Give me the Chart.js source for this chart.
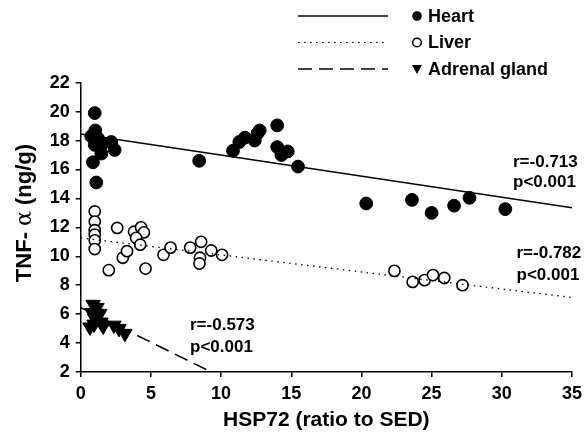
<!DOCTYPE html>
<html>
<head>
<meta charset="utf-8">
<script src="https://cdn.jsdelivr.net/npm/chart.js@4.4.0/dist/chart.umd.min.js"></script>
<style>
  html, body { margin: 0; padding: 0; background: #fff; }
  canvas { display: block; }
</style>
</head>
<body>
<canvas id="chart" width="588" height="439"></canvas>
<script>
// values
const heartX = [1.0, 1.04, 0.75, 1.23, 1.0, 1.59, 2.18, 2.42, 1.47, 0.87, 1.11, 1.3,
  8.44, 10.85, 11.3, 11.7, 12.4, 12.75, 12.6, 14.0, 14.0, 14.3, 14.75, 15.48,
  20.34, 23.6, 25.0, 26.6, 27.7, 30.25];
const heartY = [19.9, 18.7, 18.3, 18.15, 17.7, 17.8, 17.9, 17.35, 17.1, 16.5, 15.1, 17.6,
  16.6, 17.3, 17.9, 18.2, 18.0, 18.7, 18.5, 19.05, 17.55, 17.0, 17.25, 16.2,
  13.65, 13.9, 13.0, 13.5, 14.04, 13.26];

const liverX = [1.0, 1.0, 1.0, 1.0, 1.0, 1.0, 2.6, 2.0, 3.0, 3.3, 3.8, 4.3, 4.5, 3.95,
  4.24, 4.62, 5.9, 6.4, 7.8, 8.58, 8.5, 8.46, 9.3, 10.07,
  22.35, 23.65, 24.5, 25.1, 25.9, 27.2];
const liverY = [13.1, 12.4, 11.8, 11.5, 11.1, 10.5, 11.96, 9.04, 9.9, 10.35, 11.7, 12.0, 11.65, 11.27,
  10.8, 9.15, 10.1, 10.6, 10.6, 11.0, 9.9, 9.5, 10.4, 10.1,
  8.99, 8.23, 8.35, 8.7, 8.5, 8.0];

const adrenalX = [0.88, 1.16, 0.8, 1.37, 1.0, 0.95, 1.44, 0.66, 1.6, 2.37, 2.73, 3.15];
const adrenalY = [6.67, 6.46, 6.1, 6.05, 5.7, 5.3, 5.44, 5.1, 5.16, 5.23, 5.0, 4.66];

// regression lines: [x start, x end], [y start, y end]
const heartFitX = [0, 35];
const heartFitY = [18.45, 13.35];
const liverFitX = [0, 35];
const liverFitY = [11.27, 7.15];
const adrenalFitX = [0, 9.3];
const adrenalFitY = [6.45, 2.0];

const xTicks = [0, 5, 10, 15, 20, 25, 30, 35];
const yTicks = [2, 4, 6, 8, 10, 12, 14, 16, 18, 20, 22];

const seriesNames = ["Heart", "Liver", "Adrenal gland"];
const statTexts = [
  ["r=-0.713", "p<0.001"],
  ["r=-0.782", "p<0.001"],
  ["r=-0.573", "p<0.001"],
];
const yTitleParts = ["TNF- ", "\u03b1", " (ng/g)"];

const FONT = "'Liberation Sans', Arial, Helvetica, sans-serif";
const pts = (xs, ys) => xs.map((x, i) => ({ x: x, y: ys[i] }));

const dashes = [[], [1.5, 4.5], [14, 7]];

const legendPlugin = {
  id: "topLegend",
  afterDraw(chart) {
    const ctx = chart.ctx;
    ctx.save();
    ctx.font = "bold 18px " + FONT;
    ctx.textBaseline = "middle";
    ctx.fillStyle = "#000";
    ctx.strokeStyle = "#000";
    seriesNames.forEach((name, i) => {
      const y = 16 + i * 26.5;
      ctx.lineWidth = i === 1 ? 1.2 : 1.5;
      ctx.setLineDash(dashes[i]);
      ctx.beginPath();
      ctx.moveTo(298, y);
      ctx.lineTo(388, y);
      ctx.stroke();
      ctx.setLineDash([]);
      ctx.lineWidth = 1.5;
      if (i === 0) {
        ctx.beginPath();
        ctx.arc(417, y, 4.8, 0, Math.PI * 2);
        ctx.fill();
      } else if (i === 1) {
        ctx.beginPath();
        ctx.arc(417, y, 4.3, 0, Math.PI * 2);
        ctx.fillStyle = "#fff";
        ctx.fill();
        ctx.stroke();
        ctx.fillStyle = "#000";
      } else {
        ctx.beginPath();
        ctx.moveTo(412, y - 4);
        ctx.lineTo(422, y - 4);
        ctx.lineTo(417, y + 5);
        ctx.closePath();
        ctx.fill();
      }
      ctx.fillText(name, 428, y + 1);
    });
    ctx.restore();
  },
};

const statsPlugin = {
  id: "stats",
  afterDraw(chart) {
    const ctx = chart.ctx;
    const places = [[513, 162, 182], [516.5, 253, 275], [190, 325, 347]];
    ctx.save();
    ctx.font = "bold 17px " + FONT;
    ctx.textBaseline = "middle";
    ctx.fillStyle = "#000";
    statTexts.forEach((t, i) => {
      const p = places[i];
      ctx.fillText(t[0], p[0], p[1]);
      ctx.fillText(t[1], p[0], p[2]);
    });

    // y axis title, alpha in plain weight like the original
    const fonts = ["bold 22px " + FONT, "22px 'DejaVu Serif', serif", "bold 22px " + FONT];
    const widths = yTitleParts.map((s, i) => { ctx.font = fonts[i]; return ctx.measureText(s).width; });
    const total = widths.reduce((a, b) => a + b, 0);
    ctx.translate(25, 213);
    ctx.rotate(-Math.PI / 2);
    let x = -total / 2;
    yTitleParts.forEach((s, i) => {
      ctx.font = fonts[i];
      ctx.fillText(s, x, 0);
      x += widths[i];
    });
    ctx.restore();
  },
};

const axisStyle = () => ({
  type: "linear",
  grid: { drawOnChartArea: false, drawTicks: true, tickLength: 5, color: "#000", lineWidth: 1.5 },
  border: { display: true, color: "#000", width: 1.5 },
  ticks: { color: "#000", font: { family: FONT, size: 18, weight: "bold" } },
});

const xScale = axisStyle();
xScale.min = 0;
xScale.max = 35;
xScale.afterBuildTicks = (s) => { s.ticks = xTicks.map((v) => ({ value: v })); };
xScale.ticks.padding = 6;
xScale.afterFit = (s) => { s.height = 67; };
xScale.title = { display: true, text: "HSP72 (ratio to SED)", color: "#000",
  padding: { top: 0, bottom: 6 }, font: { family: FONT, size: 21, weight: "bold" } };

const yScale = axisStyle();
yScale.min = 2;
yScale.max = 22;
yScale.afterBuildTicks = (s) => { s.ticks = yTicks.map((v) => ({ value: v })); };
yScale.ticks.padding = 6;
yScale.afterFit = (s) => { s.width = 80.7; };

new Chart(document.getElementById("chart"), {
  type: "scatter",
  data: {
    datasets: [
      { label: "Heart fit", data: pts(heartFitX, heartFitY), showLine: true, pointRadius: 0,
        borderColor: "#000", borderWidth: 1.5 },
      { label: "Liver fit", data: pts(liverFitX, liverFitY), showLine: true, pointRadius: 0,
        borderColor: "#000", borderWidth: 1.3, borderDash: dashes[1] },
      { label: "Adrenal fit", data: pts(adrenalFitX, adrenalFitY), showLine: true, pointRadius: 0,
        borderColor: "#000", borderWidth: 1.5, borderDash: dashes[2] },
      { label: seriesNames[0], data: pts(heartX, heartY), pointStyle: "circle", pointRadius: 6.4,
        backgroundColor: "#000", borderColor: "#000", borderWidth: 1 },
      { label: seriesNames[1], data: pts(liverX, liverY), pointStyle: "circle", pointRadius: 5.6,
        backgroundColor: "#fff", borderColor: "#000", borderWidth: 1.6 },
      { label: seriesNames[2], data: pts(adrenalX, adrenalY), pointStyle: "triangle", rotation: 180,
        pointRadius: 8.3, backgroundColor: "#000", borderColor: "#000", borderWidth: 1 },
    ],
  },
  options: {
    responsive: false,
    animation: false,
    devicePixelRatio: 1,
    layout: { padding: { top: 82.7, right: 15.3, left: 0, bottom: 0 } },
    plugins: { legend: { display: false }, tooltip: { enabled: false } },
    scales: { x: xScale, y: yScale },
  },
  plugins: [legendPlugin, statsPlugin],
});
</script>
</body>
</html>
